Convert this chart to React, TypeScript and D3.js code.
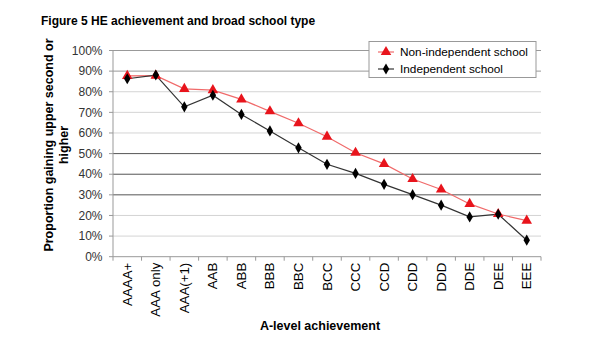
import React from "react";
import * as d3 from "d3";

const categories = ["AAAA+", "AAA only", "AAA(+1)", "AAB", "ABB", "BBB", "BBC", "BCC", "CCC", "CCD", "CDD", "DDD", "DDE", "DEE", "EEE"];
const nonIndependent = [87.7, 87.8, 81.4, 80.8, 76.3, 70.5, 64.7, 58.2, 50.4, 45.0, 37.7, 32.6, 25.6, 20.7, 17.5];
const independent = [86.3, 88.1, 72.7, 78.3, 69.0, 61.0, 52.8, 44.8, 40.4, 35.1, 30.1, 25.0, 19.3, 20.6, 8.0];
const yTicks = [0, 10, 20, 30, 40, 50, 60, 70, 80, 90, 100];
const darkGrid = [30, 40, 50];

const W = 600, H = 350;
const left = 113, right = 541, top = 50.5, bottom = 256.7;

export default function App() {
  const x = d3.scaleBand<string>().domain(categories).range([left, right]);
  const y = d3.scaleLinear().domain([0, 100]).range([bottom, top]);
  const cx = (c: string) => (x(c) as number) + x.bandwidth() / 2;
  const line = d3.line<number>().x((_, i) => cx(categories[i])).y((d) => y(d));
  const tri = d3.symbol().type(d3.symbolTriangle).size(48)();
  const dia = d3.symbol().type(d3.symbolDiamond).size(36)();
  const font = "Arial, 'Liberation Sans', sans-serif";

  return (
    <svg width={W} height={H} style={{ display: "block", position: "absolute", left: 0, top: 0 }} fontFamily={font}>
      <rect width={W} height={H} fill="#fff" />
      <text x={41} y={25} fontSize={12} fontWeight="bold" fill="#000">Figure 5 HE achievement and broad school type</text>
      {yTicks.map((t) => (
        <g key={t}>
          {t > 0 && (
            <line x1={left} x2={right} y1={y(t)} y2={y(t)}
              stroke={darkGrid.includes(t) ? "#555" : t >= 90 ? "#999" : "#d4d4d4"} strokeWidth={1} />
          )}
          <line x1={left - 4} x2={left} y1={y(t)} y2={y(t)} stroke="#999" />
          <text x={102.5} y={y(t)} dy="0.35em" textAnchor="end" fontSize={12} fill="#333">{t}%</text>
        </g>
      ))}
      <line x1={left} x2={left} y1={top} y2={bottom} stroke="#999" />
      <line x1={left} x2={right} y1={bottom} y2={bottom} stroke="#999" />
      {categories.map((c, i) => (
        <line key={"t" + i} x1={(x(c) as number)} x2={(x(c) as number)} y1={bottom} y2={bottom + 4} stroke="#999" />
      ))}
      <line x1={right} x2={right} y1={bottom} y2={bottom + 4} stroke="#999" />
      {categories.map((c) => (
        <text key={c} transform={`translate(${cx(c) + 4.5},${bottom + 6}) rotate(-90)`} textAnchor="end" fontSize={13.3} fill="#000">{c}</text>
      ))}
      <text x={320} y={330} textAnchor="middle" fontSize={12.5} fontWeight="bold">A-level achievement</text>
      <text transform={`translate(53,145) rotate(-90)`} textAnchor="middle" fontSize={12.5} fontWeight="bold">Proportion gaining upper second or</text>
      <text transform={`translate(68,145) rotate(-90)`} textAnchor="middle" fontSize={12.5} fontWeight="bold">higher</text>

      <path d={line(nonIndependent) || ""} fill="none" stroke="#f06a6a" strokeWidth={1.2} />
      <path d={line(independent) || ""} fill="none" stroke="#333" strokeWidth={1.2} />
      {nonIndependent.map((v, i) => (
        <path key={"r" + i} d={tri || ""} transform={`translate(${cx(categories[i])},${y(v)})`} fill="#e8141c" />
      ))}
      {independent.map((v, i) => (
        <path key={"b" + i} d={dia || ""} transform={`translate(${cx(categories[i])},${y(v)})`} fill="#000" />
      ))}

      <g>
        <rect x={369} y={41.5} width={167} height={36} fill="#fff" stroke="#999" />
        <line x1={378} x2={394} y1={52} y2={52} stroke="#f06a6a" strokeWidth={1.2} />
        <path d={tri || ""} transform="translate(386,52)" fill="#e8141c" />
        <text x={400} y={52} dy="0.35em" fontSize={11.8} fill="#000">Non-independent school</text>
        <line x1={378} x2={394} y1={69} y2={69} stroke="#333" strokeWidth={1.2} />
        <path d={dia || ""} transform="translate(386,69)" fill="#000" />
        <text x={400} y={69} dy="0.35em" fontSize={11.8} fill="#000">Independent school</text>
      </g>
    </svg>
  );
}
